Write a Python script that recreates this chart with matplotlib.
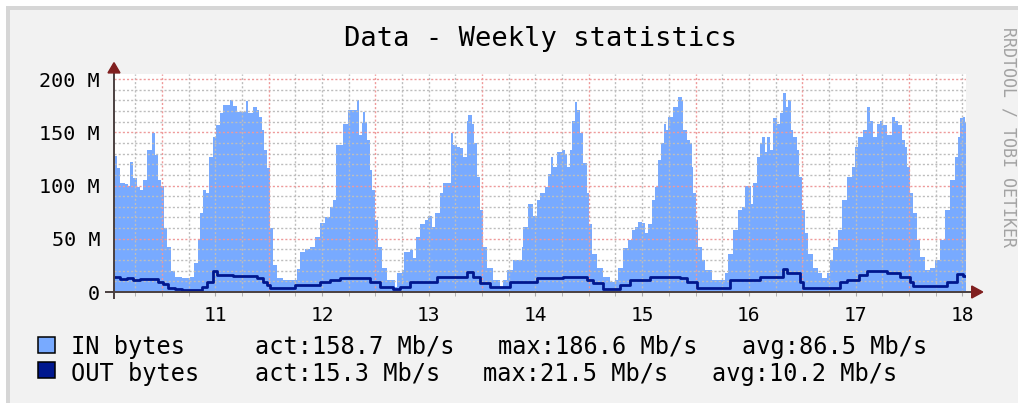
import numpy as np
import matplotlib
matplotlib.use("Agg")
import matplotlib.pyplot as plt
from matplotlib.patches import Rectangle, Polygon
from matplotlib.ticker import MultipleLocator

# ---------------- data ----------------
in_days = [10.550, 10.578, 10.606, 10.653, 10.681, 10.700, 10.728, 10.766, 10.794, 10.822,
           10.860, 10.906, 10.934, 10.963, 10.991, 11.019, 11.047, 11.084, 11.122, 11.190,
           11.262, 11.300, 11.337, 11.356, 11.384, 11.412, 11.440, 11.478, 11.506, 11.544,
           11.572, 11.637, 11.665, 11.703, 11.759, 11.787, 11.806, 11.853, 11.890, 11.909,
           11.937, 11.956, 11.984, 12.012, 12.040, 12.078, 12.134, 12.237, 12.265, 12.293,
           12.340, 12.387, 12.434, 12.480, 12.527, 12.574, 12.602, 12.630, 12.696, 12.743,
           12.790, 12.827, 12.846, 12.874, 12.884, 12.902, 12.921, 12.949, 12.968, 12.996,
           13.024, 13.062, 13.109, 13.184, 13.202, 13.249, 13.268, 13.324, 13.352, 13.380,
           13.418, 13.465, 13.493, 13.530, 13.558, 13.605, 13.634, 13.681, 13.709, 13.727,
           13.765, 13.793, 13.821, 13.858, 13.868, 13.905, 13.924, 13.952, 13.980, 14.008,
           14.046, 14.102, 14.168, 14.196, 14.233, 14.290, 14.374, 14.383, 14.430, 14.468,
           14.477, 14.515, 14.543, 14.590, 14.618, 14.646, 14.665, 14.702, 14.749, 14.777,
           14.796, 14.824, 14.843, 14.871, 14.890, 14.918, 14.946, 14.983, 15.002, 15.030,
           15.077, 15.133, 15.199, 15.246, 15.274, 15.321, 15.368, 15.405, 15.433, 15.461,
           15.499, 15.527, 15.555, 15.592, 15.620, 15.649, 15.677, 15.705, 15.724, 15.742,
           15.789, 15.836, 15.874, 15.883, 15.920, 15.949, 15.967, 15.977, 16.005, 16.023,
           16.061, 16.089, 16.155, 16.249, 16.277, 16.305, 16.352, 16.399, 16.436, 16.464,
           16.492, 16.520, 16.539, 16.577, 16.605, 16.623, 16.652, 16.670, 16.698, 16.727,
           16.764, 16.792, 16.820, 16.849, 16.867, 16.895, 16.914, 16.952, 16.970, 16.998,
           17.026, 17.054, 17.101, 17.148, 17.186, 17.233, 17.261, 17.289, 17.336, 17.373,
           17.420, 17.467, 17.495, 17.523, 17.570, 17.608, 17.636, 17.664, 17.702, 17.730,
           17.758, 17.795, 17.842, 17.870, 17.898, 17.936, 17.964, 17.983, 18.011, 18.039,
           18.077, 18.105, 18.152, 18.198, 18.246, 18.292, 18.339, 18.386, 18.433, 18.461,
           18.480, 18.508, 18.527]
in_mbps = [128, 116, 102, 101, 100, 122, 107, 99, 96, 105,
           133, 149, 129, 105, 100, 60, 42, 20, 14, 13,
           14, 27, 50, 74, 96, 93, 127, 146, 157, 168,
           176, 180, 175, 169, 169, 179, 168, 174, 171, 164,
           152, 133, 116, 60, 25, 13, 11, 11, 22, 38,
           40, 42, 52, 65, 70, 80, 86, 138, 158, 171,
           171, 180, 147, 159, 169, 160, 143, 115, 96, 68,
           42, 23, 11, 5, 18, 21, 38, 39, 32, 52,
           64, 68, 71, 61, 74, 93, 102, 102, 149, 138,
           136, 135, 127, 161, 166, 158, 140, 108, 77, 42,
           23, 11, 5, 11, 21, 30, 42, 61, 83, 83,
           71, 86, 93, 99, 111, 127, 117, 131, 133, 130,
           117, 133, 161, 178, 171, 149, 121, 93, 64, 36,
           23, 14, 9, 11, 23, 41, 49, 58, 61, 66,
           65, 55, 64, 86, 99, 124, 140, 158, 152, 164,
           174, 183, 180, 152, 143, 140, 117, 93, 68, 42,
           30, 21, 11, 11, 18, 36, 58, 77, 80, 100,
           100, 83, 102, 127, 140, 146, 131, 146, 133, 163,
           158, 168, 186.6, 174, 180, 152, 146, 133, 108, 77,
           55, 36, 23, 18, 13, 18, 30, 42, 58, 86,
           108, 117, 136, 146, 152, 174, 161, 146, 158, 161,
           157, 147, 164, 161, 157, 143, 136, 117, 93, 74,
           49, 33, 21, 23, 30, 49, 77, 105, 127, 146,
           163, 164, 158.7]

out_days = [10.550, 10.606, 10.672, 10.728, 10.794, 10.888, 10.963, 11.009, 11.056, 11.122,
            11.187, 11.356, 11.375, 11.422, 11.478, 11.516, 11.665, 11.890, 11.946, 11.984,
            12.012, 12.228, 12.247, 12.453, 12.480, 12.574, 12.668, 12.884, 12.949, 13.043,
            13.165, 13.231, 13.324, 13.512, 13.577, 13.821, 13.858, 13.915, 13.980, 14.074,
            14.196, 14.261, 14.449, 14.515, 14.758, 14.983, 15.040, 15.133, 15.227, 15.293,
            15.386, 15.546, 15.574, 15.855, 15.920, 16.014, 16.295, 16.323, 16.577, 16.605,
            16.764, 16.820, 16.858, 16.914, 16.980, 17.008, 17.289, 17.355, 17.420, 17.467,
            17.533, 17.608, 17.730, 17.795, 17.851, 17.917, 17.983, 18.011, 18.039, 18.292,
            18.358, 18.452, 18.508]
out_mbps = [14, 12, 13, 11, 12, 12, 9, 7.5, 4, 3,
            2, 2, 5, 9, 20, 16, 15, 13, 9, 6.5,
            4, 4, 6.5, 6.5, 9, 11, 13, 13, 9, 5,
            3, 5, 9, 9, 14, 14, 19, 14, 8, 5,
            5, 9, 9, 13, 14, 11, 8, 3, 3, 6.5,
            11, 11, 14, 13, 9, 4, 4, 11, 11, 14,
            14, 21.5, 18, 18, 9, 4, 4, 9, 11, 11,
            16, 20, 20, 18, 18, 14, 14, 9, 5.5, 5.5,
            9, 17, 15.3]

y_ticks = [0, 50, 100, 150, 200]
y_tick_labels = ["0", "50 M", "100 M", "150 M", "200 M"]
x_label_days = [11.5, 12.5, 13.5, 14.5, 15.5, 16.5, 17.5, 18.5]
x_tick_labels = ["11", "12", "13", "14", "15", "16", "17", "18"]

title_text = "Data - Weekly statistics"
side_text = "RRDTOOL / TOBI OETIKER"
legend_names = ["IN bytes", "OUT bytes"]
legend_act = ["act:158.7 Mb/s", "act:15.3 Mb/s"]
legend_max = ["max:186.6 Mb/s", "max:21.5 Mb/s"]
legend_avg = ["avg:86.5 Mb/s", "avg:10.2 Mb/s"]

# ---------------- style ----------------
IN_COLOR = "#78aaff"
OUT_COLOR = "#00178e"
BG = "#f2f2f2"
MINOR_GRID = "#bdbdbd"
MAJOR_GRID = "#ee9a9a"
ARROW = "#801f1f"
AXIS = "#4a4040"
FONT = "DejaVu Sans Mono"

W, H = 1018, 403
XMIN, XMAX = 10.55, 18.535
YMAX = 204.7

fig = plt.figure(figsize=(W / 100, H / 100), dpi=100, facecolor="white")

def fx(px):
    return px / W

def fy(py):
    return 1 - py / H

# frame / background
fig.add_artist(Rectangle((fx(6), 0), 1 - fx(6), fy(6), transform=fig.transFigure,
                         facecolor="#d6d6d6", edgecolor="none", zorder=-10))
fig.add_artist(Rectangle((fx(10), 0), 1 - fx(10), fy(10), transform=fig.transFigure,
                         facecolor=BG, edgecolor="none", zorder=-9))

ax = fig.add_axes([fx(114), fy(292), (966 - 114) / W, (292 - 74) / H])
ax.set_facecolor("white")
ax.set_xlim(XMIN, XMAX)
ax.set_ylim(0, YMAX)
for s in ax.spines.values():
    s.set_visible(False)

# data
t_in = np.append(in_days, XMAX)
v_in = np.append(in_mbps, in_mbps[-1])
ax.fill_between(t_in, 0, v_in, step="post", color=IN_COLOR, linewidth=0, zorder=1)
t_out = np.append(out_days, XMAX)
v_out = np.append(out_mbps, out_mbps[-1])
ax.step(t_out, v_out, where="post", color=OUT_COLOR, linewidth=2.0, zorder=4)

# grid (drawn over the area like rrdtool)
dash = (0, (1.5, 1.5))
minor_x = [d for d in np.arange(10.75, XMAX, 0.25) if abs(d - round(d)) > 1e-6]
major_x = [d for d in np.arange(11, XMAX, 1.0)]
for d in minor_x:
    ax.axvline(d, color=MINOR_GRID, lw=1.0, ls=dash, zorder=2)
for d in major_x:
    ax.axvline(d, color=MAJOR_GRID, lw=1.0, ls=dash, zorder=2.5)
for v in range(10, 201, 10):
    if v % 50:
        ax.axhline(v, color=MINOR_GRID, lw=1.0, ls=dash, zorder=2)
for v in range(50, 201, 50):
    ax.axhline(v, color=MAJOR_GRID, lw=1.0, ls=dash, zorder=2.5)

# ticks
ax.set_yticks(y_ticks, y_tick_labels)
ax.set_xticks(x_label_days, x_tick_labels)
ax.xaxis.set_minor_locator(MultipleLocator(0.25))
ax.tick_params(axis="y", length=0, pad=10, labelsize=14.5)
ax.tick_params(axis="x", which="major", length=3, color="#aaaaaa", pad=7, labelsize=14)
ax.tick_params(axis="x", which="minor", length=3, color="#aaaaaa")
for lab in ax.get_xticklabels() + ax.get_yticklabels():
    lab.set_fontfamily(FONT)

# axes lines with arrows
ax.plot([0, 0], [-7 / 218, 1.005], transform=ax.transAxes, color=AXIS, lw=1.4,
        clip_on=False, zorder=5, solid_capstyle="butt")
ax.plot([-9 / 852, 1.0067], [0, 0], transform=ax.transAxes, color=AXIS, lw=1.4,
        clip_on=False, zorder=5, solid_capstyle="butt")
ax.add_patch(Polygon([(-6 / 852, 1.005), (6 / 852, 1.005), (0, 1.052)], closed=True,
                     transform=ax.transAxes, facecolor=ARROW, edgecolor=ARROW,
                     clip_on=False, zorder=6))
ax.add_patch(Polygon([(1.0067, -6 / 218), (1.0067, 6 / 218), (1.0196, 0)], closed=True,
                     transform=ax.transAxes, facecolor=ARROW, edgecolor=ARROW,
                     clip_on=False, zorder=6))

# title and side text
fig.text(fx(541), fy(45.7), title_text, ha="center", va="baseline",
         fontsize=19.5, family=FONT, color="black")
fig.text(fx(1008.5), fy(137), side_text, ha="center", va="center", rotation=270,
         fontsize=12, family=FONT, color="#a3a3a3")

# legend
box_tops = [337, 362]
baselines = [354, 380.5]
colors = [IN_COLOR, OUT_COLOR]
max_x = [498, 483]
avg_x = [742, 712]
for i in range(2):
    fig.add_artist(Rectangle((fx(38), fy(box_tops[i] + 16)), 17 / W, 16 / H,
                             transform=fig.transFigure, facecolor=colors[i],
                             edgecolor="black", linewidth=1.1))
    for xpos, txt in [(70.7, legend_names[i]), (255, legend_act[i]),
                      (max_x[i], legend_max[i]), (avg_x[i], legend_avg[i])]:
        fig.text(fx(xpos), fy(baselines[i]), txt, ha="left", va="baseline",
                 fontsize=17, family=FONT, color="black")

fig.savefig("out.png", dpi=100, facecolor=fig.get_facecolor())
